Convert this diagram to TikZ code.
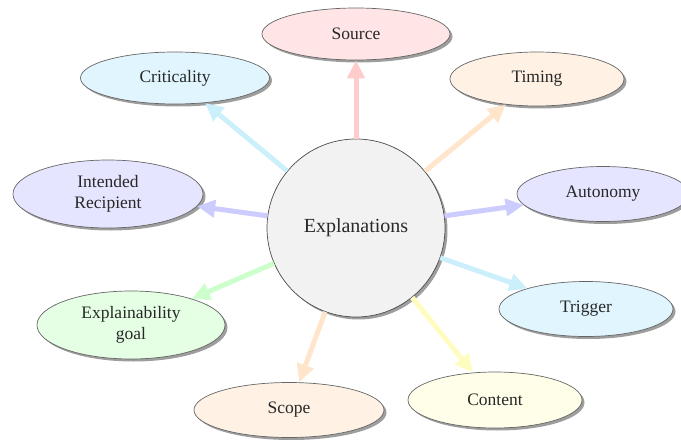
\documentclass[tikz,border=0pt]{standalone}
\usepackage{fontspec}
\setmainfont{Liberation Serif}
\usetikzlibrary{shapes.geometric,shadows,arrows.meta}
\definecolor{txt}{RGB}{40,40,40}
\tikzset{
  leaf/.style={ellipse, draw=black!60, line width=0.7pt, inner sep=0pt, align=center,
    text=txt, font=\fontsize{17.5}{21}\selectfont,
    drop shadow={shadow xshift=2.5pt, shadow yshift=-2.5pt, fill=black!38, opacity=1}},
  hub/.style={circle, draw=black!70, line width=0.7pt, fill=black!5, minimum size=178pt, inner sep=0pt,
    text=txt, font=\fontsize{20}{24}\selectfont,
    drop shadow={shadow xshift=2.5pt, shadow yshift=-2.5pt, fill=black!38, opacity=1}},
  conn/.style={line width=5pt, -{Triangle[length=18pt,width=17pt]}},
}
\begin{document}
\begin{tikzpicture}[x=1pt,y=-1pt]
\useasboundingbox (0,0) rectangle (681,442);
\clip (0,0) rectangle (681,442);
\node[hub] (c) at (356,228) {Explanations};
\node[leaf, fill=red!10, minimum width=188pt, minimum height=52pt] (src) at (356,34) {Source};
\node[leaf, fill=orange!10, minimum width=174pt, minimum height=54pt] (tim) at (537,79) {Timing};
\node[leaf, fill=cyan!12, minimum width=189pt, minimum height=52pt] (cri) at (175,78) {Criticality};
\node[leaf, fill=blue!10, minimum width=190pt, minimum height=68pt] (rec) at (108,194) {Intended\\Recipient};
\node[leaf, fill=blue!10, minimum width=172pt, minimum height=55pt] (aut) at (603,194) {Autonomy};
\node[leaf, fill=cyan!12, minimum width=174pt, minimum height=55pt] (trg) at (586,309) {Trigger};
\node[leaf, fill=green!10, minimum width=188pt, minimum height=68pt] (goal) at (131,325) {Explainability\\goal};
\node[leaf, fill=orange!10, minimum width=190pt, minimum height=55pt] (scp) at (289,410) {Scope};
\node[leaf, fill=yellow!9, minimum width=174pt, minimum height=56pt] (cnt) at (495,400) {Content};
\draw[conn, red!20] (c) -- (src);
\draw[conn, orange!20] (c) -- (tim);
\draw[conn, cyan!20] (c) -- (cri);
\draw[conn, blue!20] (c) -- (rec);
\draw[conn, blue!20] (c) -- (aut);
\draw[conn, cyan!20] (c) -- (trg);
\draw[conn, green!20] (c) -- (goal);
\draw[conn, orange!20] (c) -- (scp);
\draw[conn, yellow!25] (c) -- (cnt);
\end{tikzpicture}
\end{document}
